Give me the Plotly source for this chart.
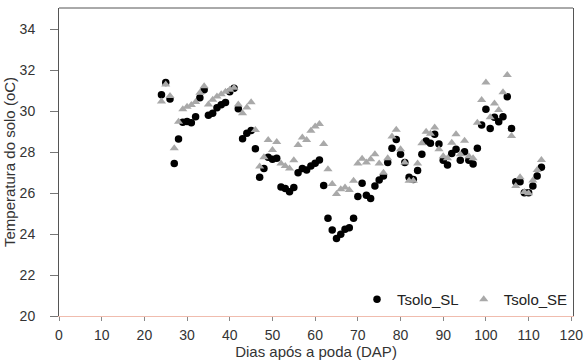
import plotly.graph_objects as go

days = list(range(24, 114))

tsolo_sl = [30.8, 31.4, 30.6, 27.45, 28.64, 29.46, 29.5, 29.44, 29.73, 30.66,
            31.05, 29.8, 29.9, 30.17, 30.32, 30.43, 30.95, 31.12, 30.12, 28.66,
            28.92, 29.06, 28.17, 26.77, 27.2, 27.75, 27.65, 27.7, 26.3, 26.23,
            26.07, 26.27, 27.0, 27.2, 27.13, 27.32, 27.46, 27.62, 26.37, 24.77,
            24.2, 23.79, 23.99, 24.23, 24.31, 24.77, 25.83, 26.48, 25.9, 25.74,
            26.35, 26.64, 26.84, 27.49, 28.19, 28.62, 27.9, 27.49, 26.77, 26.67,
            27.1, 27.9, 28.54, 28.43, 28.87, 28.4, 27.6, 27.37, 27.94, 28.14,
            27.6, 28.02, 27.6, 27.42, 28.19, 29.33, 30.09, 29.16, 29.7, 29.49,
            29.73, 30.71, 29.16, 26.56, 26.56, 26.02, 26.02, 26.35, 26.84, 27.26]

tsolo_se = [30.48, 31.3, 30.74, 28.19, 29.48, 30.1, 30.22, 30.3, 30.45, 30.9,
            31.22, 30.33, 30.56, 30.72, 30.83, 30.95, 31.05, 31.15, 30.33, 29.9,
            30.18, 30.44, 29.08, 27.3, 27.75, 28.6, 28.1, 28.5, 27.45, 27.32,
            27.2, 27.6, 28.35, 28.72, 28.6, 29.05, 29.25, 29.38, 28.4, 27.16,
            26.45, 25.96, 26.19, 26.28, 26.15, 26.6, 27.45, 27.68, 27.49, 27.65,
            27.9, 27.45, 27.0, 27.7, 28.76, 29.1, 28.14, 27.49, 26.6, 26.6,
            27.45, 28.43, 29.0, 28.9, 29.2, 28.14, 27.8, 27.7, 28.46, 28.87,
            27.9, 28.56, 27.8, 27.7, 29.44, 30.55, 31.4, 29.7, 30.38, 30.06,
            30.93, 31.77, 28.79, 26.35, 26.77, 26.05, 26.0, 26.62, 27.13, 27.62]

x_ticks = list(range(0, 121, 10))
y_ticks = list(range(20, 35, 2))

fig = go.Figure()
fig.add_trace(go.Scatter(
    x=days, y=tsolo_sl, mode="markers", name="Tsolo_SL",
    marker=dict(symbol="circle", size=7.5, color="#000000"),
))
fig.add_trace(go.Scatter(
    x=days, y=tsolo_se, mode="markers", name="Tsolo_SE",
    marker=dict(symbol="triangle-up", size=8, color="#a9a9a9"),
))

font_family = "Liberation Sans, Arial, sans-serif"
dark = "#555555"

fig.update_layout(
    width=588, height=360,
    margin=dict(l=59, r=15, t=8, b=44),
    paper_bgcolor="white", plot_bgcolor="white",
    font=dict(family=font_family, size=14, color="#333333"),
    showlegend=True,
    legend=dict(orientation="h", x=1.0, xanchor="right", y=0.0, yanchor="bottom",
                bgcolor="rgba(255,255,255,0)", font=dict(size=15, color="#222222"),
                itemwidth=30, tracegroupgap=0),
    shapes=[
        dict(type="line", xref="paper", yref="paper", x0=0, x1=1, y0=1, y1=1,
             line=dict(color=dark, width=1)),
    ],
)
fig.update_xaxes(
    range=[0, 120.4], tickvals=x_ticks, ticks="outside", ticklen=4, tickcolor="#888888",
    showgrid=False, zeroline=False, showline=True, linecolor="#f0bcae", linewidth=1,
    mirror=False, automargin=False, ticklabelstandoff=2,
    title=dict(text="Dias após a poda (DAP)", font=dict(size=15, color="#333333"), standoff=0),
    tickfont=dict(size=14, color="#333333"),
)
fig.update_yaxes(
    range=[20, 35.04], tickvals=y_ticks, ticks="outside", ticklen=8, tickcolor="#777777",
    showgrid=False, zeroline=False, showline=True, linecolor=dark, linewidth=1,
    mirror=True, automargin=False, ticklabelstandoff=12,
    title=dict(text="Temperatura do solo (oC)", font=dict(size=15, color="#333333"), standoff=0),
    tickfont=dict(size=14, color="#333333"),
)

fig.write_html(
    "out.html",
    config={"displayModeBar": False},
    post_script="document.body.style.margin='0';document.body.style.overflow='hidden';",
)
